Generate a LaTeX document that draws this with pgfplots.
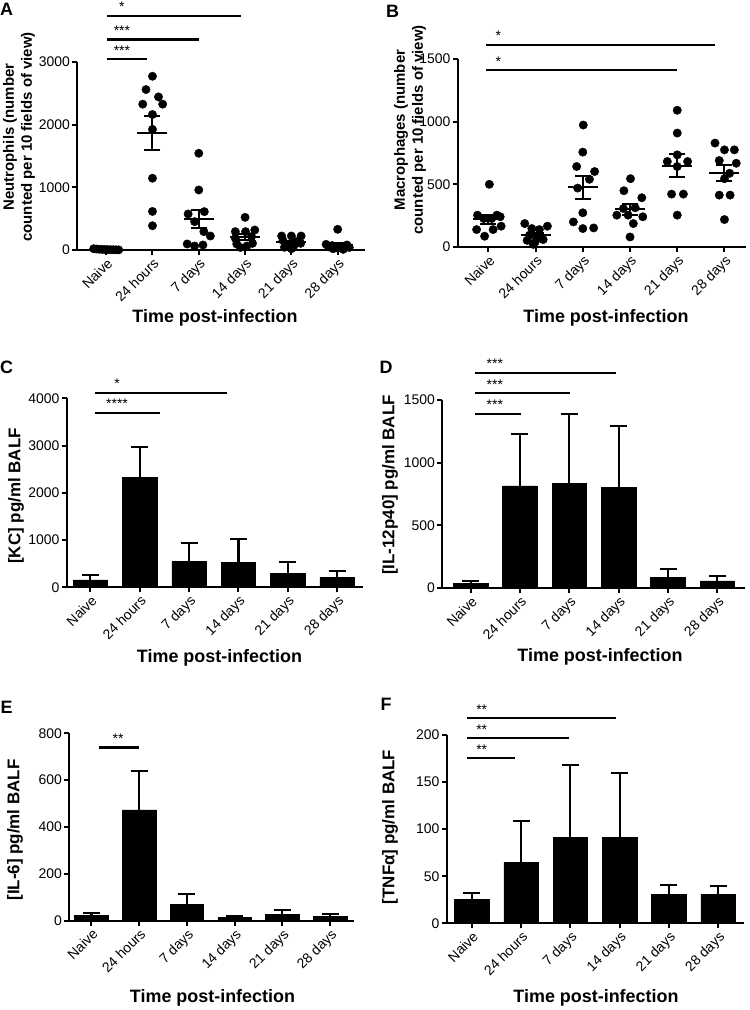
\documentclass[border=0pt]{standalone}
\usepackage{fontspec}
\setmainfont{Liberation Sans}
\usepackage{pgfplots}
\pgfplotsset{compat=1.18}

\pgfplotsset{
  gp/.style={
    scale only axis,
    axis lines=left,
    axis line style={-, line width=2.2bp},
    tick style={line width=2bp, black},
    tick align=outside,
    major tick length=5bp,
    xtick={0,...,5},
    xticklabels={Naive,24 hours,7 days,14 days,21 days,28 days},
    xticklabel style={rotate=45, anchor=north east, inner sep=1.5bp, font=\fontsize{14}{14}\selectfont},
    yticklabel style={font=\fontsize{14}{14}\selectfont, inner sep=2bp},
    /pgf/number format/assume math mode=true,
    /pgf/number format/1000 sep={},
    ymin=0,
    clip=false,
    anchor=south west,
  },
  dots/.style={black, only marks, mark=*, mark size=4.2bp},
  meansem/.style={black, only marks, mark=-, mark size=15bp, mark options={line width=2bp},
    error bars/.cd, y dir=both, y explicit,
    error bar style={line width=2bp},
    error mark options={rotate=90, mark size=8bp, line width=2bp}},
  blackbar/.style={ybar, fill=black, draw=black, line width=0.5bp, bar width=0.7,
    error bars/.cd, y dir=plus, y explicit,
    error bar style={line width=2.2bp},
    error mark options={rotate=90, mark size=8.5bp, line width=2.2bp}},
}
\tikzset{
  sig/.style={line width=2.2bp},
  star/.style={anchor=base, yshift=4bp, inner sep=0pt, font=\fontsize{14}{14}\selectfont},
  xt/.style={font=\bfseries\fontsize{18}{18}\selectfont},
  yt/.style={font=\bfseries\fontsize{17}{19}\selectfont, rotate=90, align=center},
  yt2/.style={font=\bfseries\fontsize{15}{18}\selectfont, rotate=90, align=center},
  pl/.style={font=\bfseries\fontsize{18}{18}\selectfont},
}

\begin{document}
\begin{tikzpicture}
\useasboundingbox (0,0) rectangle (750bp,1010bp);

% A: neutrophils
\begin{axis}[gp, at={(77bp,760bp)}, width=288bp, height=188bp,
  xmin=-0.63, xmax=5.59, ymax=3000, ytick={0,1000,2000,3000}]
\addplot[dots] coordinates {
 (-0.27,20)(-0.21,15)(-0.15,12)(-0.09,10)(-0.03,8)(0.03,6)(0.09,5)(0.15,4)(0.21,3)(0.27,2)
 (1,2772)(0.86,2560)(1.13,2443)(0.79,2327)(1.22,2327)(1,2162)(1,1924)(1,1145)(1,615)(1,387)
 (2,1543)(2,958)(2.12,612)(1.77,575)(1.91,452)(2.11,293)(2.25,223)(1.75,96)(1.91,64)(2.09,80)
 (3,521)(2.79,293)(3.01,293)(3.21,319)(2.79,186)(3.14,213)(2.82,96)(3.16,106)(3.04,64)(2.9,40)
 (3.79,223)(4,223)(4.21,223)(3.82,150)(4.1,133)(4.2,106)(3.93,80)(4.05,60)(3.85,43)(4,20)
 (5,330)(4.75,90)(5.2,80)(4.88,70)(5.1,60)(4.8,50)(5.25,40)(5,30)(4.9,20)(5.12,10)
};
\addplot[meansem] coordinates {
 (0,9) +- (0,2) (1,1868) +- (0,272) (2,490) +- (0,146)
 (3,206) +- (0,50) (4,122) +- (0,25) (5,78) +- (0,30)
};
\draw[sig] (0.02,3737) -- (2.92,3737);
\node[star] at (0.34,3737) {*};
\draw[sig] (0.02,3360) -- (2.0,3360);
\node[star] at (0.34,3360) {***};
\draw[sig] (0.02,3046) -- (0.89,3046);
\node[star] at (0.34,3046) {***};
\end{axis}

% B: macrophages
\begin{axis}[gp, at={(457.7bp,763bp)}, width=288bp, height=188bp,
  xmin=-0.65, xmax=5.45, ymax=1500, ytick={0,500,1000,1500}]
\addplot[dots] coordinates {
 (0.02,500)(-0.23,254)(0.18,254)(0.25,241)(0.07,227)(-0.1,227)(0.27,166)(-0.25,139)(0.1,139)(-0.08,86)
 (0.77,187)(0.92,147)(1.08,139)(1.25,166)(0.87,94)(1.04,75)(0.82,53)(0.99,40)(1.16,59)(0.95,21)
 (2.01,973)(2,757)(1.87,642)(2.25,602)(2.14,540)(1.89,470)(2,273)(1.8,200)(2,147)(2.23,152)
 (3.01,545)(2.87,449)(3.25,393)(2.86,307)(3.11,313)(2.72,254)(2.96,254)(3.27,241)(3.07,187)(3,80)
 (4,1091)(4,909)(4,735)(3.79,682)(4.22,682)(4,642)(3.88,422)(4.13,422)(4,254)
 (4.8,829)(5,775)(5.21,775)(4.89,690)(5.25,668)(5.11,588)(5,545)(4.89,414)(5.12,414)(5,219)
};
\addplot[meansem] coordinates {
 (0,223) +- (0,36) (1,98) +- (0,17) (2,476) +- (0,91)
 (3,302) +- (0,44) (4,650) +- (0,88) (5,592) +- (0,62)
};
\draw[sig] (-0.05,1612) -- (4.8,1612);
\node[star] at (0.21,1612) {*};
\draw[sig] (-0.05,1410) -- (4.0,1410);
\node[star] at (0.21,1410) {*};
\end{axis}

% C: KC
\begin{axis}[gp, at={(66.7bp,422.7bp)}, width=296.6bp, height=189bp,
  xmin=-0.48, xmax=5.53, ymax=4000, ytick={0,1000,2000,3000,4000}]
\addplot[blackbar] coordinates {
 (0,155) +- (0,99) (1,2328) +- (0,649) (2,543) +- (0,388)
 (3,522) +- (0,494) (4,296) +- (0,247) (5,212) +- (0,141)
};
\draw[sig] (0.1,4120) -- (2.76,4120);
\node[star] at (0.54,4120) {*};
\draw[sig] (0.1,3697) -- (1.41,3697);
\node[star] at (0.54,3697) {****};
\end{axis}

% D: IL-12p40
\begin{axis}[gp, at={(442bp,422bp)}, width=303bp, height=188bp,
  xmin=-0.58, xmax=5.56, ymax=1500, ytick={0,500,1000,1500}]
\addplot[blackbar] coordinates {
 (0,37) +- (0,22) (1,814) +- (0,412) (2,835) +- (0,554)
 (3,801) +- (0,492) (4,82) +- (0,70) (5,56) +- (0,42)
};
\draw[sig] (0.09,1718) -- (2.95,1718);
\node[star] at (0.49,1718) {***};
\draw[sig] (0.09,1554) -- (2.02,1554);
\node[star] at (0.49,1554) {***};
\draw[sig] (0.09,1389) -- (1.02,1389);
\node[star] at (0.49,1389) {***};
\end{axis}

% E: IL-6
\begin{axis}[gp, at={(69bp,89.3bp)}, width=285bp, height=187.4bp,
  xmin=-0.47, xmax=5.5, ymax=800, ytick={0,200,400,600,800}]
\addplot[blackbar] coordinates {
 (0,24) +- (0,10) (1,473) +- (0,167) (2,69) +- (0,46)
 (3,13) +- (0,7) (4,27) +- (0,18) (5,20) +- (0,8)
};
\draw[sig] (0.16,739) -- (1.0,739);
\node[star] at (0.56,739) {**};
\end{axis}

% F: TNF-alpha
\begin{axis}[gp, at={(446.7bp,86.7bp)}, width=297.6bp, height=188.3bp,
  xmin=-0.51, xmax=5.53, ymax=200, ytick={0,50,100,150,200}]
\addplot[blackbar] coordinates {
 (0,25.5) +- (0,7.1) (1,64.4) +- (0,44.6) (2,91) +- (0,77)
 (3,91) +- (0,69) (4,31) +- (0,9.7) (5,30.8) +- (0,8.8)
};
\draw[sig] (-0.1,217.7) -- (2.93,217.7);
\node[star] at (0.2,217.7) {**};
\draw[sig] (-0.1,196.5) -- (1.97,196.5);
\node[star] at (0.2,196.5) {**};
\draw[sig] (-0.1,175.2) -- (0.88,175.2);
\node[star] at (0.2,175.2) {**};
\end{axis}

% axis titles
\node[xt] at (215bp,692bp) {Time post-infection};
\node[xt] at (606bp,692bp) {Time post-infection};
\node[xt] at (219.5bp,352bp) {Time post-infection};
\node[xt] at (600bp,353bp) {Time post-infection};
\node[xt] at (212.5bp,12bp) {Time post-infection};
\node[xt] at (596bp,12bp) {Time post-infection};

\node[yt2] at (19bp,873bp) {Neutrophils (number\\counted per 10 fields of view)};
\node[yt2] at (410bp,880bp) {Macrophages (number\\counted per 10 fields of view)};
\node[yt] at (16bp,514bp) {[KC] pg/ml BALF};
\node[yt] at (390bp,525bp) {[IL-12p40] pg/ml BALF};
\node[yt] at (15bp,180bp) {[IL-6] pg/ml BALF};
\node[yt] at (390bp,183bp) {[TNFα] pg/ml BALF};

\node[pl] at (6.5bp,1001bp) {A};
\node[pl] at (392.5bp,999bp) {B};
\node[pl] at (6.5bp,642.5bp) {C};
\node[pl] at (386bp,643bp) {D};
\node[pl] at (6.5bp,302.5bp) {E};
\node[pl] at (386bp,306bp) {F};
\end{tikzpicture}
\end{document}
